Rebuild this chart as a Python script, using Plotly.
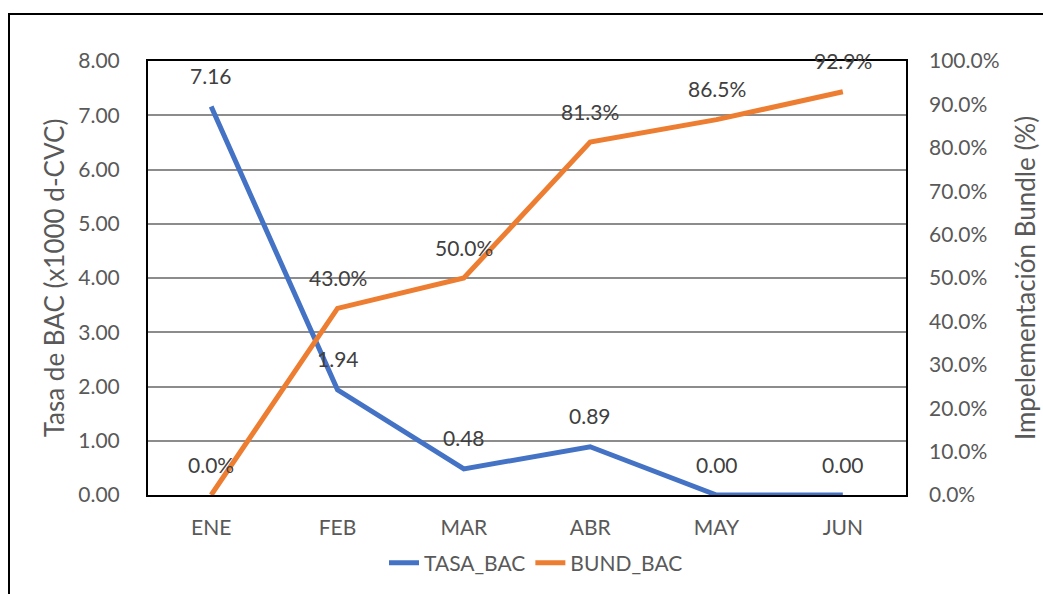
import plotly.graph_objects as go

months = ["ENE", "FEB", "MAR", "ABR", "MAY", "JUN"]
tasa_bac = [7.16, 1.94, 0.48, 0.89, 0.00, 0.00]
bund_bac = [0.0, 0.430, 0.500, 0.813, 0.865, 0.929]
tasa_labels = ["7.16", "1.94", "0.48", "0.89", "0.00", "0.00"]
bund_labels = ["0.0%", "43.0%", "50.0%", "81.3%", "86.5%", "92.9%"]

FONT = "Lato"
FS = 21
W, H = 1043, 594
L, R, T, B = 148, 137, 61, 99
pw, ph = W - L - R, H - T - B

fig = go.Figure()
fig.add_trace(go.Scatter(x=months, y=tasa_bac, name="TASA_BAC", mode="lines",
                         line=dict(color="#4472C4", width=5), yaxis="y"))
fig.add_trace(go.Scatter(x=months, y=bund_bac, name="BUND_BAC", mode="lines",
                         line=dict(color="#ED7D31", width=5), yaxis="y2"))

annots = []
for m, v, t in zip(months, tasa_bac, tasa_labels):
    annots.append(dict(x=m, y=v, xref="x", yref="y", text=t, showarrow=False,
                       yshift=31, font=dict(family=FONT, size=FS, color="#404040")))
for m, v, t in zip(months, bund_bac, bund_labels):
    annots.append(dict(x=m, y=v, xref="x", yref="y2", text=t, showarrow=False,
                       yshift=31, font=dict(family=FONT, size=FS, color="#404040")))

def px2x(p):
    return (p - L) / pw

def py2y(p):
    return (H - B - p) / ph

fig.update_layout(
    width=W, height=H,
    margin=dict(l=L, r=R, t=T, b=B, autoexpand=False),
    paper_bgcolor="white", plot_bgcolor="white",
    font=dict(family=FONT, size=FS, color="#595959"),
    xaxis=dict(type="category", range=[-0.5, 5.5], showgrid=False, automargin=False,
               showline=True, linecolor="black", linewidth=2, mirror=True,
               ticks="", ticklabelstandoff=13, tickfont=dict(size=FS, color="#595959")),
    yaxis=dict(range=[0, 8], dtick=1, tickformat=".2f", showgrid=True, automargin=False,
               gridcolor="#8c8c8c", gridwidth=1.5, zeroline=False,
               showline=True, linecolor="black", linewidth=2, mirror=True,
               ticks="", ticklabelstandoff=22, tickfont=dict(size=FS, color="#595959"),
               title=dict(text="Tasa de BAC (x1000 d-CVC)", standoff=6,
                          font=dict(size=26, color="#595959"))),
    yaxis2=dict(range=[0, 1], dtick=0.1, tickformat=".1%", overlaying="y", automargin=False,
                side="right", showgrid=False, zeroline=False, showline=False,
                ticks="", ticklabelstandoff=22, tickfont=dict(size=FS, color="#595959"),
                title=dict(text="Impelementación Bundle (%)", standoff=18,
                           font=dict(size=26, color="#595959"))),
    legend=dict(orientation="h", x=px2x(536), xanchor="center", y=py2y(563),
                yanchor="middle", font=dict(size=FS, color="#595959"),
                bgcolor="rgba(0,0,0,0)"),
    annotations=annots,
    shapes=[dict(type="rect", xref="paper", yref="paper",
                 x0=px2x(9), x1=px2x(1060), y0=py2y(610), y1=py2y(14),
                 line=dict(color="black", width=2), fillcolor="rgba(0,0,0,0)",
                 layer="below")],
)

fig.write_html("out.html")
